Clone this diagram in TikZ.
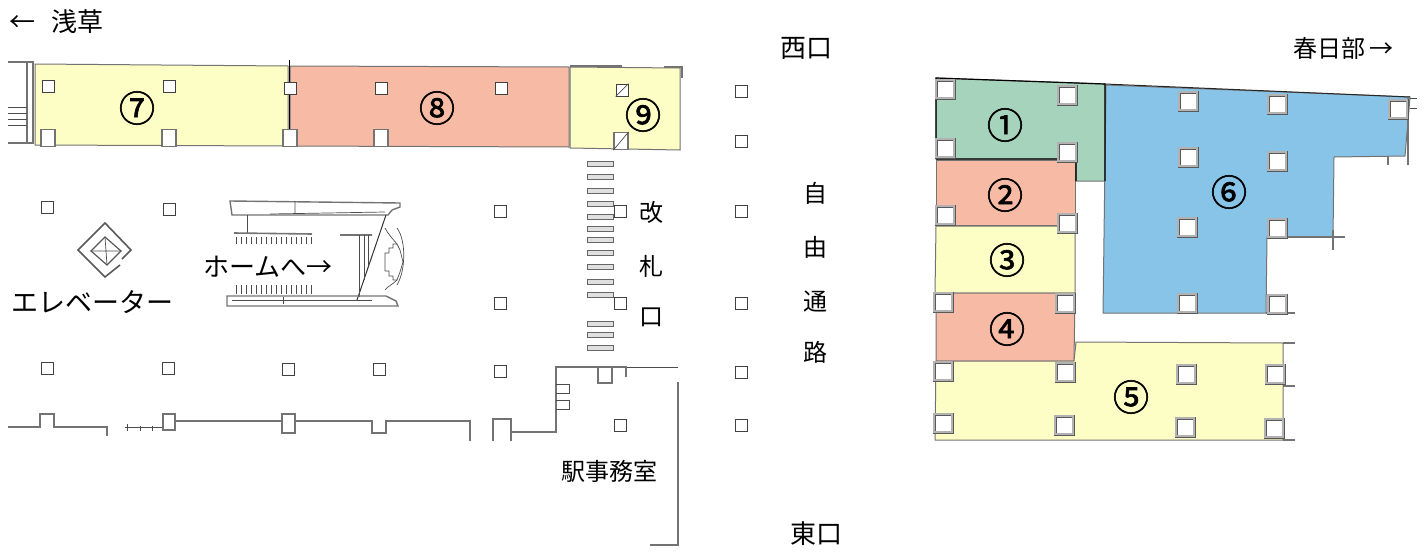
\documentclass[tikz,border=0pt]{standalone}
\usepackage{fontspec}
\setmainfont{Noto Sans CJK JP}
\newfontfamily\numfont{Noto Sans CJK JP}[FakeBold=1.6]
\definecolor{roomyellow}{HTML}{FDFDC6}
\definecolor{roomred}{HTML}{F7BBA5}
\definecolor{roomgreen}{HTML}{A6D3BB}
\definecolor{roomblue}{HTML}{88C4E8}
\tikzset{
  label/.style={font=\fontsize{24}{24}\selectfont,inner sep=0pt},
  biglabel/.style={font=\fontsize{26}{26}\selectfont,inner sep=0pt},
  number/.style={font=\fontsize{36}{36}\selectfont\numfont,inner sep=0pt},
  pillar/.style={draw=black!75,fill=white,line width=.9pt,minimum size=12pt,inner sep=0pt},
  tallpillar/.style={pillar,draw=black!55,line width=1.3pt,minimum width=14pt,minimum height=17pt},
  bigpillar/.style={draw=black!65,double=black!30,double distance=1.6pt,fill=white,line width=.7pt,minimum size=18pt,inner sep=0pt},
  room/.style={draw=black!55,line width=1pt},
  wall/.style={draw=black!55,line width=1.8pt},
  thinline/.style={draw=black!70,line width=.7pt},
  gate/.style={draw=black!60,fill=black!12,line width=.9pt},
}
\begin{document}
\begin{tikzpicture}[x=1pt,y=-1pt]
\useasboundingbox (0,0) rectangle (1428,552);
% left rooms
\draw[room,fill=roomyellow] (35,64) -- (288,66) -- (288,146) -- (35,145) -- cycle;
\draw[room,fill=roomred] (290,66) -- (569,67) -- (569,147) -- (290,146) -- cycle;
\draw[room,fill=roomyellow] (570,67) -- (680,68) -- (680,150) -- (570,148) -- cycle;
\draw[wall] (8,62) -- (33,62) -- (33,143) -- (8,143);
\draw[wall] (570,66) -- (622,66) (664,67) -- (682,67) -- (682,78);
\draw[wall] (27,62) -- (27,143);
\foreach \y in {107,113,119,125} \draw[thinline] (8,\y) -- (27,\y);
\draw[line width=1pt] (289,60) -- (289,146);
% left pillars
\foreach \x/\y [count=\i] in {48/86,169/86,290/88,381/88,501/88,622/90,741/91,741/141,741/211,741/303,741/372,741/425,
  47/207,169/209,500/211,620/211,500/303,620/303,47/368,168/368,288/369,379/369,500/371,620/425}
  \node[pillar] (pl\i) at (\x,\y) {};
\foreach \x/\y [count=\i] in {48/138,169/138,290/138,381/138,621/141}
  \node[tallpillar] (pb\i) at (\x,\y) {};
\draw[thinline] (pl6.south west) -- (pl6.north east);
\draw[thinline] (pb5.south west) -- (pb5.north east);
% lower walls
\draw[wall] (8,427) -- (40,427) -- (40,414) -- (54,414) -- (54,427) -- (107,427) -- (107,436);
\draw[thinline] (125,427) -- (163,427) (127,431) -- (127,424) (140,431) -- (140,426) (152,431) -- (152,426);
\draw[wall] (163,414) -- (175,414) -- (175,430) -- (163,430) -- cycle;
\draw[wall] (175,421) -- (282,421) (282,414) -- (295,414) -- (295,433) -- (282,433) -- cycle (295,421) -- (372,421) -- (372,433) -- (386,433) -- (386,421) -- (470,421) -- (470,441);
\draw[wall] (493,441) -- (493,419) -- (511,419) -- (511,441);
\draw[wall] (511,432) -- (556,432) -- (556,367) -- (613,367);
\draw[thinline] (613,367) -- (678,367);
\draw[wall] (598,367) -- (598,383) -- (612,383) -- (612,367) (612,367) -- (626,367) -- (626,377);
\draw[thinline] (556,384) -- (569,384) -- (569,393) -- (556,393) (556,400) -- (569,400) -- (569,409) -- (556,409);
\draw[wall] (678,382) -- (678,545) -- (650,545);
% elevator
\draw[draw=black!65,line width=1.6pt] (120,265) -- (105,277) -- (78,250) -- (105,223) -- (131,250) -- (122,259);
\draw[draw=black!65,line width=1.2pt] (105,237) -- (91,251) -- (107,265) -- (121,251) -- cycle;
\draw[thinline] (91,251) -- (121,251) (105,237) -- (107,265);
% stairs
\draw[wall,line width=1.4pt] (230,201) -- (400,203) -- (400,207) -- (392,210) -- (388,215) -- (232,215) -- cycle;
\draw[thinline] (270,214) -- (385,212) (295,201) -- (295,213);
\draw[thinline] (247,215) -- (247,233);
\draw[wall,line width=1.6pt] (234,233) -- (312,234) (340,235) -- (372,235);
\foreach \x in {236,241,...,314} \draw[line width=1pt,black!70] (\x,237) -- (\x,244);
\foreach \x in {236,241,...,314} \draw[line width=1pt,black!70] (\x,285) -- (\x,294);
\draw[line width=1pt,black!80] (386,215) -- (357,300);
\draw[thinline] (359,235) -- (359,297) (364,235) -- (364,280) (368,235) -- (368,265);
\draw[wall,line width=1.4pt] (227,296) -- (386,296) -- (396,301) -- (398,306) -- (227,306) -- cycle;
\draw[thinline] (283,297) -- (283,304) (232,300) -- (372,300);
\draw[thinline] (385,253) -- (389,253) -- (389,248) -- (393,248) -- (393,244) -- (397,244) -- (400,250) -- (403,262) -- (400,272) -- (397,280) -- (393,280) -- (393,276) -- (389,276) -- (389,271) -- (385,271) -- cycle;
\draw[thinline] (385,228) .. controls (388,234) and (392,238) .. (397,244);
\draw[thinline] (397,228) .. controls (406,240) and (406,270) .. (397,285);
\draw[thinline] (385,290) .. controls (388,286) and (392,285) .. (397,280);
% gates
\foreach \y [count=\i] in {164,177,191,204,217,229,240,253,267,282,295,324,335,348}
  \draw[gate] (587,\y-2.5) rectangle (613,\y+2);
% right rooms
\draw[room,fill=roomgreen] (936,78) -- (1105,84) -- (1105,181) -- (1076,181) -- (1076,159) -- (936,159) -- cycle;
\draw[room,fill=roomred] (936,160) -- (1075,160) -- (1075,225) -- (936,225) -- cycle;
\draw[room,fill=roomyellow] (936,226) -- (1075,226) -- (1075,293) -- (935,293) -- cycle;
\draw[room,fill=roomred] (936,293) -- (1075,293) -- (1074,361) -- (936,361) -- cycle;
\draw[room,fill=roomyellow] (936,361) -- (1074,361) -- (1076,342) -- (1283,343) -- (1283,440) -- (935,440) -- cycle;
\draw[room,fill=roomblue] (1106,85) -- (1410,97) -- (1405,156) -- (1334,157) -- (1333,237) -- (1267,237) -- (1266,313) -- (1103,313) -- cycle;
\draw[line width=1.2pt] (936,159) -- (936,78) -- (1105,84) -- (1105,181) (936,159) -- (1076,159) -- (1076,181);
\draw[line width=1pt,black!85] (1105,84) -- (1410,97);
\draw[wall] (1283,343) -- (1295,343) (1283,386) -- (1295,386) (1283,440) -- (1295,440) (1266,313) -- (1295,313);
\draw[wall] (1408,97) -- (1408,165) (1388,156) -- (1388,165);
\draw[wall] (1333,230) -- (1333,250) (1267,237) -- (1345,237);
\draw[thinline] (1410,98) -- (1417,98) (1410,108) -- (1417,108);
% right pillars
\foreach \x/\y [count=\i] in {945/89,1067/95,945/148,1067/152,945/215,1067/223,943/302,1065/303,943/371,1065/372,
  943/423,1064/425,1186/374,1275/374,1185/427,1274/428,1188/101,1277/104,1398/109,1188/157,1277/161,1187/227,1277/228,
  1187/303,1277/304}
  \node[bigpillar] (pr\i) at (\x,\y) {};
% numbers
\node[number] (n7) at (137,108) {⑦};
\node[number] (n8) at (437,108) {⑧};
\node[number] (n9) at (643,115) {⑨};
\node[number] (n1) at (1005,125) {①};
\node[number] (n2) at (1005,195) {②};
\node[number] (n3) at (1007,260) {③};
\node[number] (n4) at (1007,329) {④};
\node[number] (n5) at (1131,397) {⑤};
\node[number] (n6) at (1229,192) {⑥};
% labels
\node[biglabel,anchor=west] (asakusa) at (9,22) {←\hspace{16pt}浅草};
\node[biglabel] (west) at (806,48) {西口};
\node[label,anchor=east] (kasukabe) at (1394,48) {春日部\hspace{4pt}→};
\node[label] (r1) at (815,193) {自};
\node[label] (r2) at (815,247) {由};
\node[label] (r3) at (815,302) {通};
\node[label] (r4) at (815,352) {路};
\node[label] (g1) at (651,212) {改};
\node[label] (g2) at (651,266) {札};
\node[label] (g3) at (651,317) {口};
\node[label] (office) at (609,471) {駅事務室};
\node[biglabel] (east) at (816,534) {東口};
\node[biglabel,font=\fontsize{27}{27}\selectfont] (elev) at (93,302) {エレベーター};
\node[biglabel] (home) at (268,267) {ホームへ→};
\end{tikzpicture}
\end{document}
